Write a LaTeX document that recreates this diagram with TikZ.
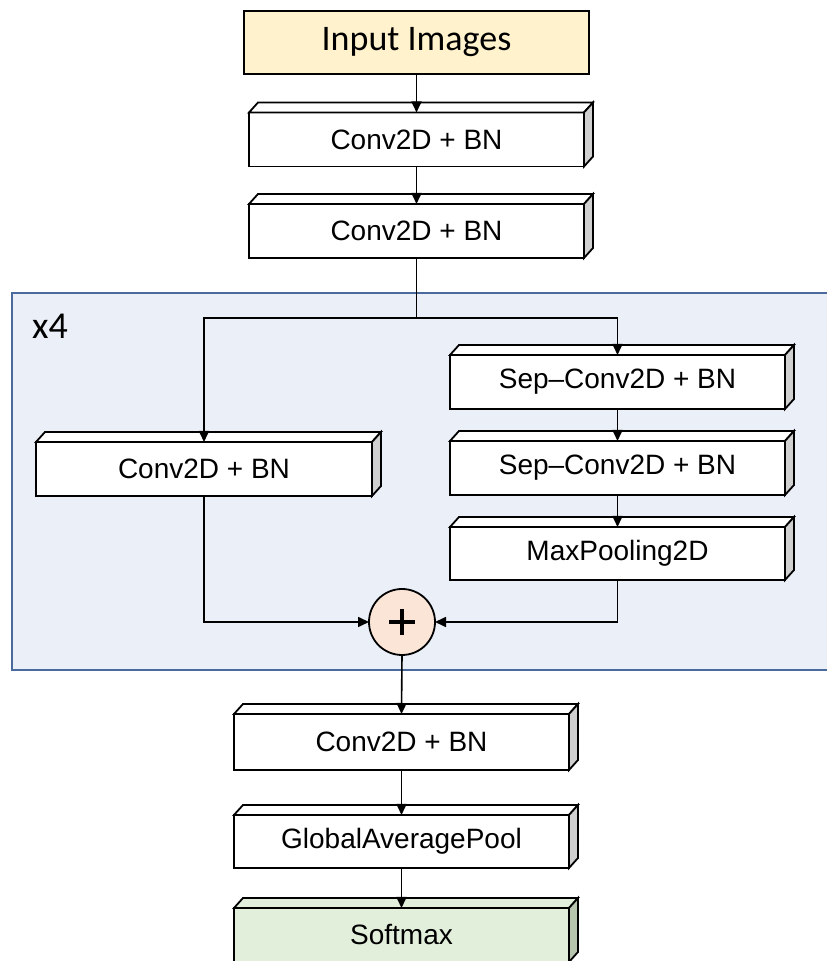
\documentclass[tikz,border=0pt]{standalone}
\usepackage{fontspec}
\setmainfont{Liberation Sans}
\newfontfamily\calib{Carlito}
\usetikzlibrary{arrows.meta,calc}

\definecolor{inputfill}{HTML}{FFF2CC}
\definecolor{regionfill}{HTML}{EAEFF8}
\definecolor{regionline}{HTML}{4A6A9E}
\definecolor{sidegray}{HTML}{D0D0D0}
\definecolor{addfill}{HTML}{FBE5D6}
\definecolor{outfill}{HTML}{E2EFDA}
\definecolor{outside}{HTML}{B7C4AE}

\tikzset{
  x=1pt, y=1pt,
  boxline/.style={draw=black, line width=1.8pt, line join=miter},
  layer/.style={boxline, fill=white, rectangle, outer sep=0pt, inner sep=0pt,
    minimum width=335pt, minimum height=54pt,
    font=\fontsize{28}{32}\selectfont},
  inputbox/.style={boxline, fill=inputfill, rectangle, outer sep=0pt, inner sep=0pt,
    minimum width=345pt, minimum height=63pt,
    font=\calib\fontsize{36}{40}\selectfont},
  addnode/.style={boxline, fill=addfill, circle, minimum size=66pt, inner sep=0pt, outer sep=0pt},
  link/.style={draw=black, line width=1.6pt},
  flow/.style={link, -{Triangle[length=11pt,width=10pt]}},
}

% top and right faces of a layer drawn as a cuboid
\newcommand{\cubefaces}[3]{%
  \draw[boxline, fill=#2] (#1.north west) -- ++(9,10)
     -- ([shift={(9,10)}]#1.north east) -- (#1.north east) -- cycle;
  \draw[boxline, fill=#3] (#1.north east) -- ++(9,10)
     -- ([shift={(9,10)}]#1.south east) -- (#1.south east) -- cycle;
}

\begin{document}
\begin{tikzpicture}
\useasboundingbox (0,0) rectangle (827,961);

% repeated block region
\fill[regionfill] (12,291) rectangle (827,668);
\draw[regionline, line width=1.5pt] (827,668) -- (12,668) -- (12,291) -- (827,291);
\node[anchor=base west, inner sep=0pt, font=\calib\fontsize{38}{40}\selectfont] (reps) at (32,622) {x4};

% layers
\node[inputbox] (inp) at (416.5,918.5) {Input Images};
\node[layer] (c1) at (416.5,821.5) {Conv2D + BN};
\node[layer] (c2) at (416.5,730) {Conv2D + BN};
\node[layer, minimum width=336pt] (c3) at (204,492) {Conv2D + BN};
\node[layer] (s1) at (617.5,579) {Sep–Conv2D + BN};
\node[layer] (s2) at (617.5,493) {Sep–Conv2D + BN};
\node[layer, minimum height=53pt] (mp) at (617.5,407.5) {MaxPooling2D};
\node[addnode] (add) at (402,339) {};
\node[layer, minimum height=56pt] (c4) at (401.5,219) {Conv2D + BN};
\node[layer, minimum height=53pt] (gap) at (401.5,119.5) {GlobalAveragePool};
\node[layer, fill=outfill] (sm) at (401.5,26) {Softmax};

\cubefaces{c1}{white}{sidegray}
\cubefaces{c2}{white}{sidegray}
\cubefaces{c3}{white}{sidegray}
\cubefaces{s1}{white}{sidegray}
\cubefaces{s2}{white}{sidegray}
\cubefaces{mp}{white}{sidegray}
\cubefaces{c4}{white}{sidegray}
\cubefaces{gap}{white}{sidegray}
\cubefaces{sm}{outfill}{outside}

% plus sign of the addition
\draw[line width=4.5pt] ([xshift=-13]add.center) -- ([xshift=13]add.center);
\draw[line width=4.5pt] ([yshift=-13]add.center) -- ([yshift=13]add.center);

% connectors
\coordinate (split) at (416.5,643);
\draw[flow] (inp.south) -- (c1.north);
\draw[flow] (c1.south) -- (c2.north);
\draw[link] (c2.south) -- (split);
\draw[flow] (split) -| (c3.north);
\draw[flow] (split) -| (s1.north);
\draw[flow] (s1.south) -- (s2.north);
\draw[flow] (s2.south) -- (mp.north);
\draw[flow] (c3.south) |- (add.west);
\draw[flow] (mp.south) |- (add.east);
\draw[flow] (add.south) -- (c4.north);
\draw[flow] (c4.south) -- (gap.north);
\draw[flow] (gap.south) -- (sm.north);
\end{tikzpicture}
\end{document}
